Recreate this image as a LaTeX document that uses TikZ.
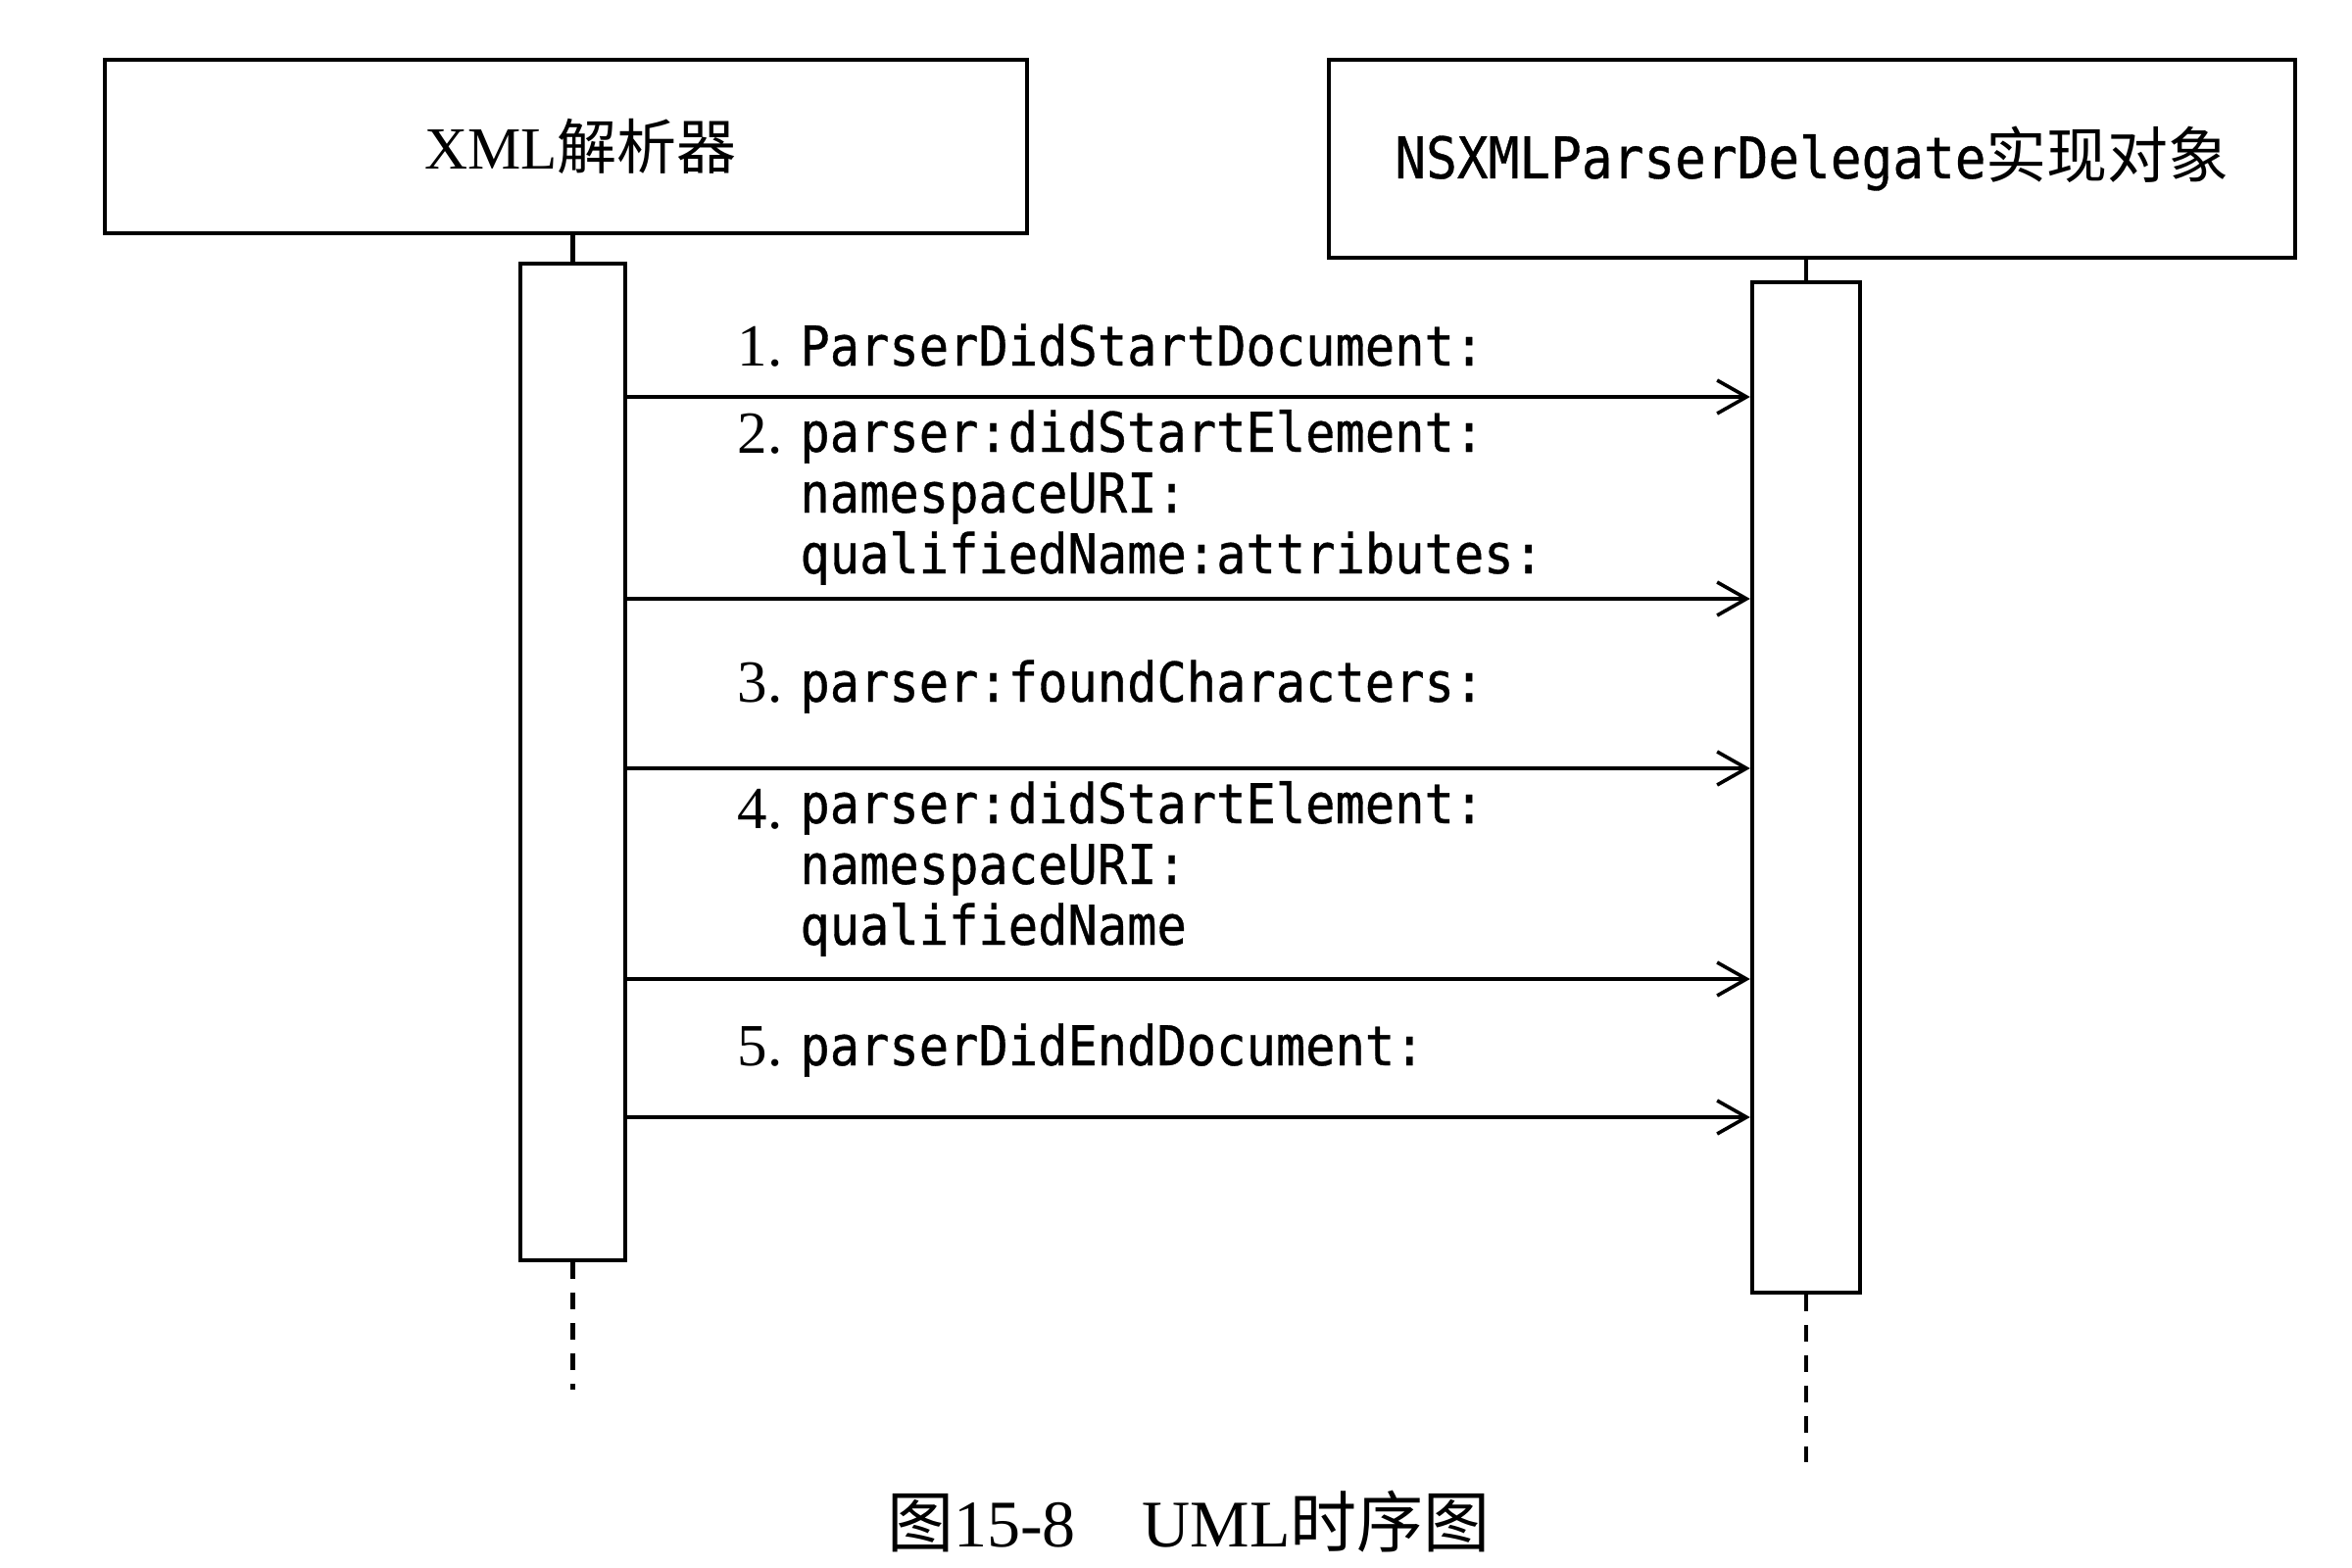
\documentclass[tikz,border=0pt]{standalone}
\usepackage{fontspec}
\setmainfont{Liberation Serif}
\setmonofont[FakeStretch=0.9,FakeBold=0.6]{DejaVu Sans Mono}
\newfontfamily\cjk{Noto Sans CJK SC}
\usetikzlibrary{arrows.meta}
\begin{document}
\begin{tikzpicture}[x=0.5pt,y=-0.5pt,
  obj/.style={draw,line width=2.4pt,inner sep=0pt},
  bar/.style={draw,line width=2.2pt,inner sep=0pt},
  msg/.style={line width=1.8pt,-{Straight Barb[length=15pt,width=17pt,line width=1.8pt]}},
  lbl/.style={font=\fontsize{28}{31}\ttfamily,align=left,anchor=base west,inner sep=0pt},
  num/.style={font=\fontsize{30.5}{31}\selectfont,anchor=base east,inner sep=0pt},
  life/.style={line width=2.2pt,dash pattern=on 8.5pt off 7pt}]
\fill[white] (0,0) rectangle (2400,1600);
\useasboundingbox (0,0) rectangle (2400,1600);
\node[obj,minimum width=470.5pt,minimum height=88.5pt,font=\fontsize{30.5}{36}\selectfont] (parser) at (577.5,149.5) {\hspace*{15pt}XML{\cjk 解析器}};
\node[obj,minimum width=493pt,minimum height=101pt,font=\fontsize{29.3}{36}\ttfamily] (delegate) at (1849,162) {NSXMLParserDelegate{\cjk\fontsize{31}{36}\selectfont 实现对象}};
\node[bar,minimum width=53.5pt,minimum height=508.5pt] (pbar) at (584.5,777.5) {};
\node[bar,minimum width=55pt,minimum height=515.5pt] (dbar) at (1843,803.5) {};
\coordinate (pend) at (584.5,1418);
\coordinate (dend) at (1843,1492);
\draw[line width=2.2pt] (pbar.north) -- (pbar.north |- parser.south);
\draw[line width=2.2pt] (dbar.north) -- (dbar.north |- delegate.south);
\draw[life] (pbar.south) -- (pend);
\draw[life] (dbar.south) -- (dend);
\foreach \y [count=\i] in {405,611,784,999,1140}{
  \coordinate (y\i) at (0,\y);
  \draw[msg] (pbar.east |- y\i) -- (dbar.west |- y\i);
}
\node[lbl] (m1) at (816,373) {ParserDidStartDocument:};
\node[lbl] (m2) at (816,585) {parser:didStartElement:\\namespaceURI:\\qualifiedName:attributes:};
\node[lbl] (m3) at (816,716) {parser:foundCharacters:};
\node[lbl] (m4) at (816,964) {parser:didStartElement:\\namespaceURI:\\qualifiedName};
\node[lbl] (m5) at (816,1087) {parserDidEndDocument:};
\foreach \i/\y in {1/373,2/462,3/716,4/845,5/1087}
  \node[num] (n\i) at (799,\y) {\i.};
\node[font=\fontsize{34}{40}\selectfont] (caption) at (1213,1553) {{\cjk 图}15-8\quad UML{\cjk 时序图}};
\end{tikzpicture}
\end{document}
